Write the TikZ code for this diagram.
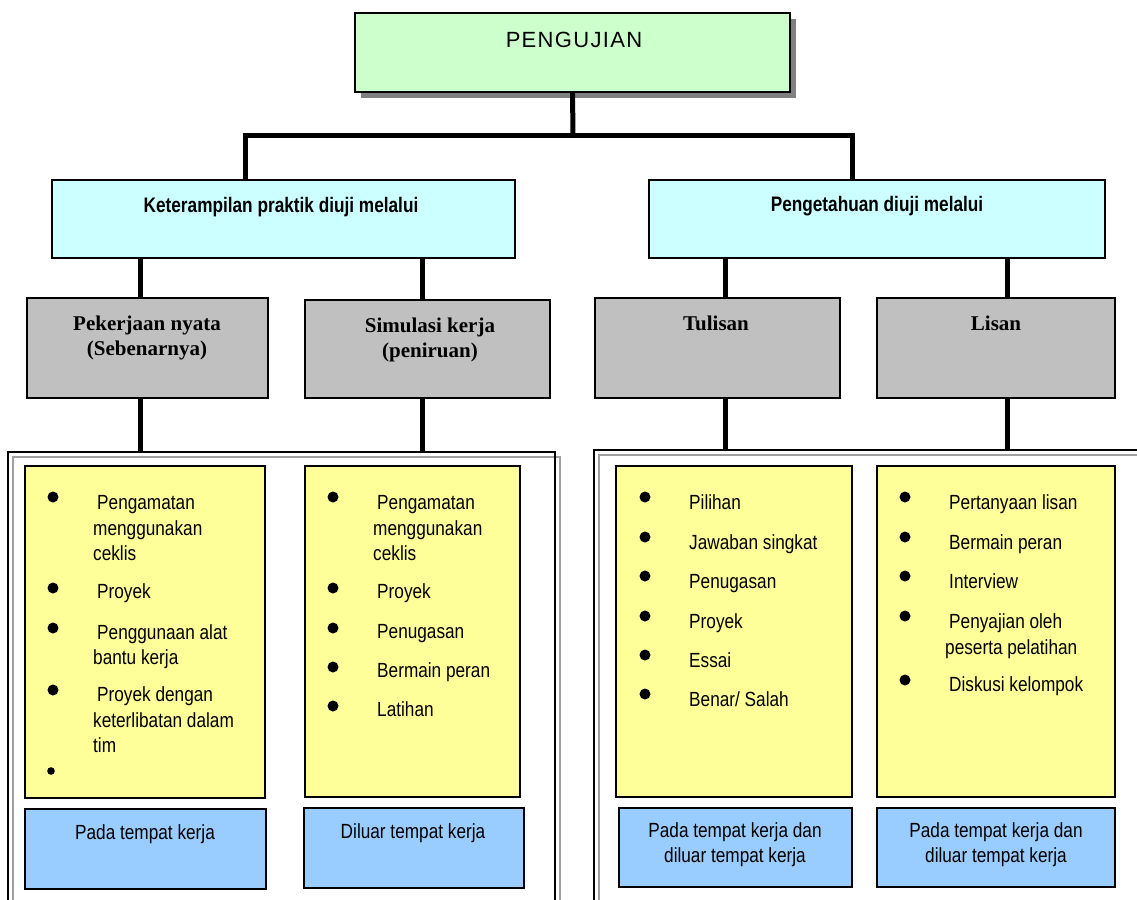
\documentclass[tikz,border=0pt]{standalone}
\usepackage{fontspec}
\setmainfont{Liberation Sans}
\newfontfamily\narfont[FakeStretch=0.84]{Liberation Sans}
\newfontfamily\narbfont[FakeStretch=0.82]{Liberation Sans Bold}
\newfontfamily\widfont[LetterSpace=6]{Liberation Sans}
\newfontfamily\tmsfont{Liberation Serif Bold}
\usetikzlibrary{calc}
\definecolor{cgreen}{HTML}{CCFFCC}
\definecolor{ccyan}{HTML}{CCFFFF}
\definecolor{cgray}{HTML}{C0C0C0}
\definecolor{cyel}{HTML}{FFFF99}
\definecolor{cblue}{HTML}{99CCFF}
\definecolor{cshadow}{HTML}{808080}
\definecolor{cframe}{HTML}{A0A0A0}
\begin{document}
\begin{tikzpicture}[x=1pt,y=-1pt,
  box/.style={draw=black, line width=1.6pt, anchor=north west, inner sep=0pt, outer sep=0pt},
  frame/.style={draw=black, line width=1.6pt, anchor=north west, inner sep=0pt, outer sep=0pt},
  conn/.style={line width=5pt},
  lt/.style={font=\narfont\fontsize{20.5}{25}\selectfont, anchor=base west, inner sep=0pt},
  ct/.style={font=\narfont\fontsize{20.5}{25}\selectfont, anchor=base, inner sep=0pt},
  hd/.style={font=\narbfont\fontsize{21}{25}\selectfont, anchor=base, inner sep=0pt},
  tb/.style={font=\tmsfont\fontsize{21}{25}\selectfont, anchor=base, inner sep=0pt},
  bul/.style={fill=black}]
\path[use as bounding box, clip] (0,0) rectangle (1137,899);
\fill[white] (0,0) rectangle (1137,899);

% helper coordinates
\coordinate (bar) at (573,135);
\coordinate (xa) at (140,0);
\coordinate (xb) at (422,0);
\coordinate (xc) at (725,0);
\coordinate (xd) at (1007,0);

% frames
\draw[cframe, line width=1.6pt] (13,457) rectangle (560,930);
\node[frame, minimum width=547pt, minimum height=470pt] (frL) at (8,452) {};
\draw[cframe, line width=1.6pt] (599,455) rectangle (1150,930);
\node[frame, minimum width=551pt, minimum height=470pt] (frR) at (594,450) {};

% shadow of the top box
\fill[cshadow] (361,19) rectangle (796,98);

% boxes
\node[box, fill=cgreen, minimum width=435pt, minimum height=79pt] (top) at (355,13) {};
\node[box, fill=ccyan, minimum width=463pt, minimum height=78pt] (cyanL) at (52,180) {};
\node[box, fill=ccyan, minimum width=456pt, minimum height=78pt] (cyanR) at (649,180) {};
\node[box, fill=cgray, minimum width=241pt, minimum height=100pt] (g1) at (27,298) {};
\node[box, fill=cgray, minimum width=245pt, minimum height=98pt] (g2) at (305,300) {};
\node[box, fill=cgray, minimum width=245pt, minimum height=100pt] (g3) at (595,298) {};
\node[box, fill=cgray, minimum width=238pt, minimum height=100pt] (g4) at (877,298) {};
\node[box, fill=cyel, minimum width=240pt, minimum height=332pt] (yL1) at (25,466) {};
\node[box, fill=cyel, minimum width=215pt, minimum height=331pt] (yL2) at (305,466) {};
\node[box, fill=cyel, minimum width=236pt, minimum height=331pt] (yR1) at (616,466) {};
\node[box, fill=cyel, minimum width=238pt, minimum height=331pt] (yR2) at (877,466) {};
\node[box, fill=cblue, minimum width=241pt, minimum height=80pt] (bL1) at (25,809) {};
\node[box, fill=cblue, minimum width=220pt, minimum height=80pt] (bL2) at (304,808) {};
\node[box, fill=cblue, minimum width=233pt, minimum height=79pt] (bR1) at (619,808) {};
\node[box, fill=cblue, minimum width=238pt, minimum height=79pt] (bR2) at (877,808) {};

% connectors
\draw[conn] (top.south) -- (bar);
\draw[conn] ($(cyanL.north west)+(193,0)$) |- (bar) -| ($(cyanR.north west)+(203,0)$);
\draw[conn] (cyanL.south -| xa) -- (g1.north -| xa);
\draw[conn] (cyanL.south -| xb) -- (g2.north -| xb);
\draw[conn] (cyanR.south -| xc) -- (g3.north -| xc);
\draw[conn] (cyanR.south -| xd) -- (g4.north -| xd);
\draw[conn] (g1.south -| xa) -- (frL.north -| xa);
\draw[conn] (g2.south -| xb) -- (frL.north -| xb);
\draw[conn] (g3.south -| xc) -- (frR.north -| xc);
\draw[conn] (g4.south -| xd) -- (frR.north -| xd);

% header texts
\node[font=\widfont\fontsize{22}{26}\selectfont, anchor=base, inner sep=0pt] (ttop) at (574,48) {PENGUJIAN};
\node[hd] (tcl) at (281,212) {Keterampilan praktik diuji melalui};
\node[hd] (tcr) at (877,211) {Pengetahuan diuji melalui};
\node[tb] (tg1a) at (147,330) {Pekerjaan nyata};
\node[tb] (tg1b) at (147,355) {(Sebenarnya)};
\node[tb] (tg2a) at (430,332) {Simulasi kerja};
\node[tb] (tg2b) at (430,357) {(peniruan)};
\node[tb] (tg3) at (716,330) {Tulisan};
\node[tb] (tg4) at (996,330) {Lisan};

% bullets
\foreach \y in {497,588,628,690} \fill[bul] (53,\y) circle (5.5pt);
\fill[bul] (51,771) circle (3.8pt);
\foreach \y in {497,588,628,667,706} \fill[bul] (333,\y) circle (5.5pt);
\foreach \y in {497,537,576,616,655,694} \fill[bul] (645,\y) circle (5.5pt);
\foreach \y in {497,537,576,616,680} \fill[bul] (905,\y) circle (5.5pt);

% list texts
\foreach \x/\y/\t [count=\i] in {97/509/{Pengamatan}, 93/535/{menggunakan}, 93/560/{ceklis}, 97/598/{Proyek}, 97/639/{Penggunaan alat}, 93/664/{bantu kerja}, 97/701/{Proyek dengan}, 93/727/{keterlibatan dalam}, 93/752/{tim}}
  \node[lt] (la\i) at (\x,\y) {\t};
\foreach \x/\y/\t [count=\i] in {377/509/{Pengamatan}, 373/535/{menggunakan}, 373/560/{ceklis}, 377/598/{Proyek}, 377/638/{Penugasan}, 377/677/{Bermain peran}, 377/716/{Latihan}}
  \node[lt] (lb\i) at (\x,\y) {\t};
\foreach \x/\y/\t [count=\i] in {689/509/{Pilihan}, 689/549/{Jawaban singkat}, 689/588/{Penugasan}, 689/628/{Proyek}, 689/667/{Essai}, 689/706/{Benar/ Salah}}
  \node[lt] (lc\i) at (\x,\y) {\t};
\foreach \x/\y/\t [count=\i] in {949/509/{Pertanyaan lisan}, 949/549/{Bermain peran}, 949/588/{Interview}, 949/628/{Penyajian oleh}, 945/654/{peserta pelatihan}, 949/691/{Diskusi kelompok}}
  \node[lt] (ld\i) at (\x,\y) {\t};

% blue texts
\node[ct] (tb1) at (145,839) {Pada tempat kerja};
\node[ct] (tb2) at (413,838) {Diluar tempat kerja};
\node[ct] (tb3a) at (735,837) {Pada tempat kerja dan};
\node[ct] (tb3b) at (735,862) {diluar tempat kerja};
\node[ct] (tb4a) at (996,837) {Pada tempat kerja dan};
\node[ct] (tb4b) at (996,862) {diluar tempat kerja};
\end{tikzpicture}
\end{document}
